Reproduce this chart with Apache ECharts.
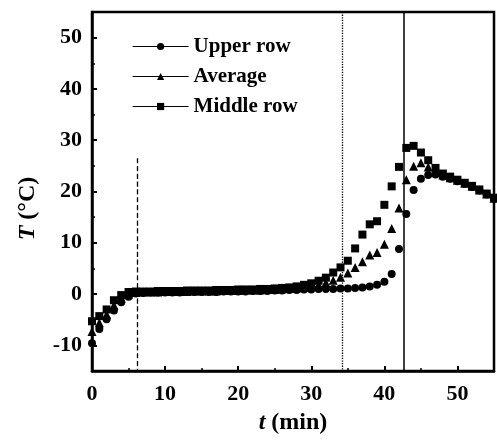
<!DOCTYPE html>
<html>
<head>
<meta charset="utf-8">
<script src="https://cdn.jsdelivr.net/npm/echarts@6/dist/echarts.min.js"></script>
<style>
  html, body { margin: 0; padding: 0; background: #fff; }
  #chart { width: 497px; height: 445px; }
</style>
</head>
<body>
<div id="chart"></div>
<script>
// time in minutes, one reading per minute
var times = [];
for (var i = 0; i <= 55; i++) times.push(i);

var upperRow = [-9.6, -6.8, -4.9, -3.2, -1.6, -0.5, 0.1, 0.2, 0.3, 0.3,
  0.3, 0.3, 0.3, 0.4, 0.4, 0.4, 0.4, 0.4, 0.5, 0.5,
  0.5, 0.5, 0.6, 0.6, 0.6, 0.7, 0.7, 0.8, 0.8, 0.9,
  0.9, 1.0, 1.0, 1.0, 1.1, 1.1, 1.2, 1.3, 1.5, 1.8,
  2.4, 3.9, 8.8, 15.6, 20.3, 22.5, 23.2, 23.3, 22.9, 22.5,
  22.0, 21.5, 20.9, 20.2, 19.4, 18.6];

var average = [-7.3, -5.6, -4.0, -2.2, -0.8, 0.0, 0.3, 0.4, 0.4, 0.4,
  0.5, 0.5, 0.5, 0.5, 0.6, 0.6, 0.6, 0.6, 0.7, 0.7,
  0.7, 0.8, 0.8, 0.8, 0.9, 0.9, 1.0, 1.1, 1.2, 1.3,
  1.5, 1.8, 2.2, 2.7, 3.3, 4.1, 5.2, 6.3, 7.6, 8.1,
  9.7, 12.8, 16.8, 22.3, 24.9, 25.6, 24.8, 24.0, 23.2, 22.7,
  22.2, 21.6, 21.0, 20.3, 19.5, 18.7];

var middleRow = [-5.3, -4.3, -3.0, -1.2, -0.2, 0.4, 0.5, 0.5, 0.5, 0.6,
  0.6, 0.6, 0.6, 0.7, 0.7, 0.7, 0.7, 0.8, 0.8, 0.8,
  0.9, 0.9, 0.9, 1.0, 1.0, 1.1, 1.2, 1.3, 1.5, 1.8,
  2.1, 2.6, 3.2, 4.2, 5.2, 6.5, 8.9, 11.6, 13.6, 14.2,
  17.4, 21.0, 24.8, 28.5, 28.9, 27.6, 26.1, 24.6, 23.5, 22.9,
  22.3, 21.7, 21.1, 20.4, 19.6, 18.8];

// y tick labels (major ticks), minor ticks every 5
var yLabels = [-10, 0, 10, 20, 30, 40, 50];

// vertical marker lines: [t, top T, style]
var vLines = [[6.2, 26.5, "dashed"], [34.2, 55, "dotted"], [42.7, 55, "solid"]];

var serif = "Liberation Serif";

function pairs(vals) {
  return vals.map(function (v, k) { return [times[k], v]; });
}

var chart = echarts.init(document.getElementById("chart"));

var markData = vLines.map(function (l) {
  return [
    { coord: [l[0], l[1]], lineStyle: { type: l[2], width: l[2] == "solid" ? 1.5 : 1.3, color: "#000" } },
    { coord: [l[0], -15] }
  ];
});

var nameStyle = {
  fontFamily: serif, fontWeight: "bold", fontSize: 24, color: "#000",
  rich: { i: { fontFamily: serif, fontWeight: "bold", fontStyle: "italic", fontSize: 24, color: "#000" } }
};

var option = {
  animation: false,
  grid: { left: 92, right: 3, top: 12, bottom: 74, show: true, borderColor: "#000", borderWidth: 2.5 },
  legend: {
    orient: "vertical",
    left: 127,
    top: 31,
    itemWidth: 56,
    itemHeight: 9,
    itemGap: 9,
    textStyle: { fontFamily: serif, fontWeight: "bold", fontSize: 21, color: "#000" },
    lineStyle: { color: "#000", width: 1.2, opacity: 1 },
    data: ["Upper row", "Average", "Middle row"]
  },
  xAxis: {
    type: "value",
    min: 0,
    max: 55,
    interval: 10,
    name: "{i|t} (min)",
    nameLocation: "middle",
    nameGap: 40,
    nameTextStyle: nameStyle,
    axisLine: { onZero: false, lineStyle: { color: "#000", width: 2.5 } },
    axisTick: { inside: true, length: 5, lineStyle: { color: "#000", width: 2 } },
    minorTick: { show: true, splitNumber: 2, length: 3, lineStyle: { color: "#000", width: 1.5 } },
    axisLabel: {
      margin: 12, fontFamily: serif, fontWeight: "bold", fontSize: 22, color: "#000",
      formatter: function (v) { return v > 50 ? "" : v; }
    },
    splitLine: { show: false }
  },
  yAxis: [
    {
      type: "value",
      min: -15,
      max: 55,
      interval: 5,
      name: "{i|T} (°C)",
      nameLocation: "middle",
      nameGap: 52,
      nameRotate: 90,
      nameTextStyle: Object.assign({ padding: [0, 34, 0, 0] }, nameStyle),
      axisLine: { onZero: false, lineStyle: { color: "#000", width: 2.5 } },
      axisTick: { inside: true, length: 5, customValues: yLabels, lineStyle: { color: "#000", width: 2 } },
      axisLabel: {
        margin: 10, fontFamily: serif, fontWeight: "bold", fontSize: 22, color: "#000",
        customValues: yLabels
      },
      splitLine: { show: false }
    },
    {
      type: "value",
      position: "left",
      min: -15,
      max: 55,
      interval: 5,
      axisLine: { show: false, onZero: false },
      axisTick: { inside: true, length: 3, lineStyle: { color: "#000", width: 1.5 } },
      axisLabel: { show: false },
      splitLine: { show: false }
    }
  ],
  series: [
    {
      name: "Upper row", type: "line", data: pairs(upperRow),
      symbol: "circle", symbolSize: 8, showAllSymbol: true,
      itemStyle: { color: "#000" }, lineStyle: { opacity: 0 },
      markLine: { silent: true, symbol: "none", label: { show: false }, data: markData }
    },
    {
      name: "Average", type: "line", data: pairs(average),
      symbol: "triangle", symbolSize: 9, showAllSymbol: true,
      itemStyle: { color: "#000" }, lineStyle: { opacity: 0 }
    },
    {
      name: "Middle row", type: "line", data: pairs(middleRow),
      symbol: "rect", symbolSize: 8, showAllSymbol: true,
      itemStyle: { color: "#000" }, lineStyle: { opacity: 0 }
    }
  ]
};

chart.setOption(option);
</script>
</body>
</html>
